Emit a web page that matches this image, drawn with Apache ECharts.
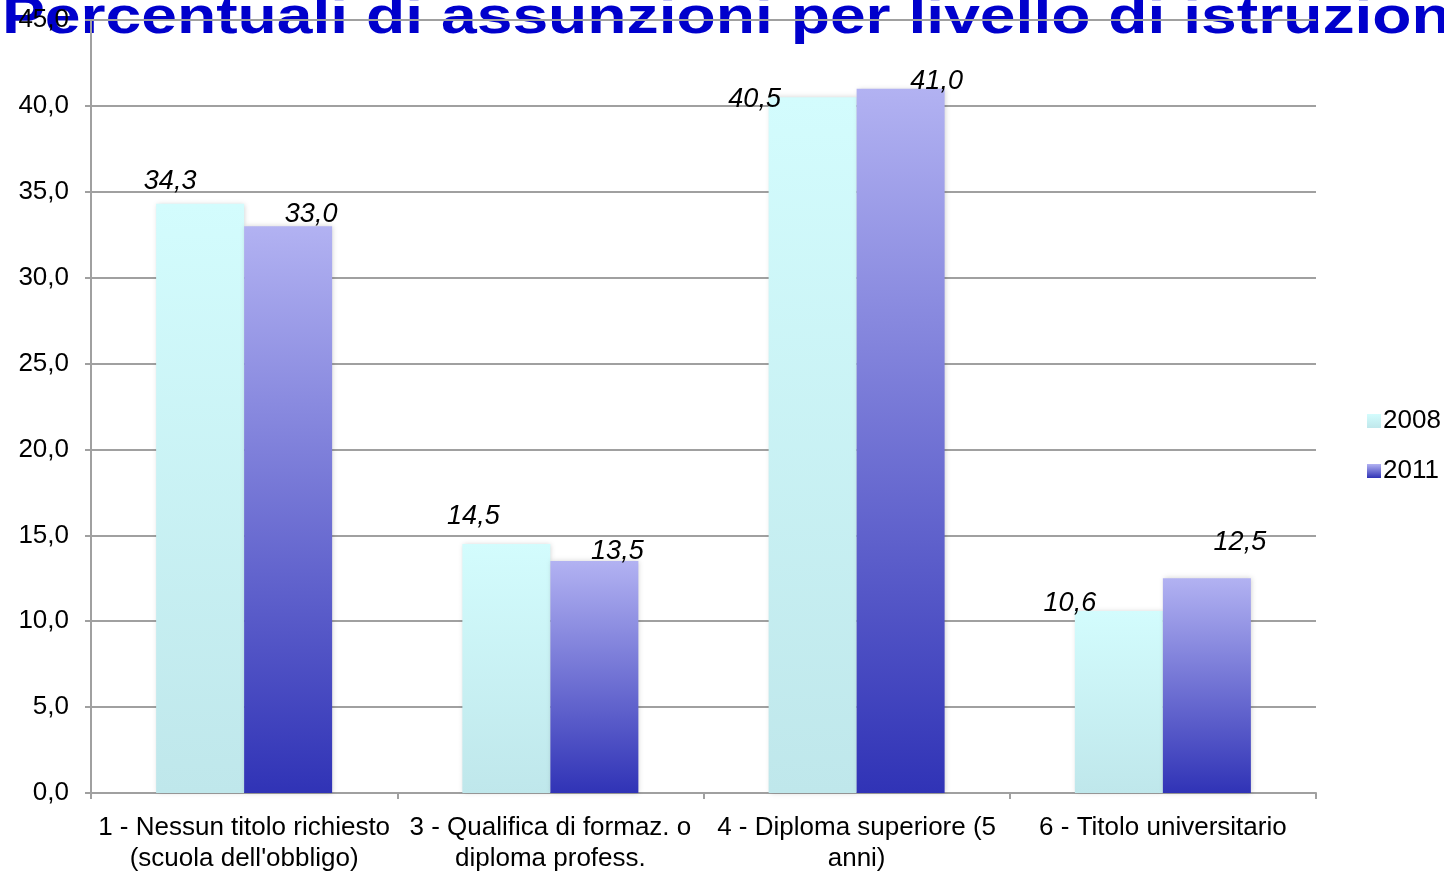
<!DOCTYPE html>
<html>
<head>
<meta charset="utf-8">
<script src="https://cdn.jsdelivr.net/npm/echarts@6/dist/echarts.min.js"></script>
<style>
html,body{margin:0;padding:0;background:#fff;}
#chart{width:1444px;height:874px;}
</style>
</head>
<body>
<div id="chart"></div>
<script>
var titleText = "Percentuali di assunzioni per livello di istruzione";
var categories = [
  "1 - Nessun titolo richiesto\n(scuola dell'obbligo)",
  "3 - Qualifica di formaz. o\ndiploma profess.",
  "4 - Diploma superiore (5\nanni)",
  "6 - Titolo universitario"
];
var seriesNames = ["2008", "2011"];
var values2008 = [34.3, 14.5, 40.5, 10.6];
var values2011 = [33.0, 13.5, 41.0, 12.5];
var yTicks = { min: 0, max: 45, interval: 5 };

// label placement offsets (style only)
var offsets2008 = [[-30,-9],[-33,-14],[-58,16],[-49,6]];
var offsets2011 = [[23,2],[23,4],[36,6],[33,-22]];

var FONT = "Liberation Sans, Arial, sans-serif";
var chart = echarts.init(document.getElementById('chart'));

function grad(top, bottom) {
  return new echarts.graphic.LinearGradient(0, 0, 0, 1, [
    {offset: 0, color: top}, {offset: 1, color: bottom}
  ]);
}
function fmt(v) { return v.toFixed(1).replace('.', ','); }
function build(vals, offs) {
  return vals.map(function (v, i) {
    return { value: v, label: { offset: offs[i] } };
  });
}
var labelStyle = {
  show: true, position: 'top', distance: 0,
  fontFamily: FONT, fontStyle: 'italic', fontSize: 27, color: '#000',
  formatter: function (p) { return fmt(p.value); }
};

chart.setOption({
  animation: false,
  backgroundColor: '#fff',
  graphic: [{
    type: 'text', x: 2, y: -7, scaleX: 1.235, z: -10,
    style: { text: titleText, font: 'bold 52px ' + FONT, fill: '#0000CC' }
  }],
  grid: { left: 91, right: 128, top: 20, bottom: 74, containLabel: false },
  legend: {
    orient: 'vertical', left: 1362, top: 403, itemWidth: 14, itemHeight: 14,
    itemGap: 24, icon: 'rect',
    textStyle: { fontFamily: FONT, fontSize: 26, color: '#000', padding: [0,0,0,-3] },
    data: seriesNames
  },
  xAxis: {
    type: 'category', data: categories,
    axisLine: { lineStyle: { color: '#A0A0A0', width: 2 } },
    axisTick: { show: true, length: 6, lineStyle: { color: '#A0A0A0', width: 2 } },
    axisLabel: { fontFamily: FONT, fontSize: 26, color: '#000', margin: 19, lineHeight: 31, interval: 0 }
  },
  yAxis: {
    type: 'value', min: yTicks.min, max: yTicks.max, interval: yTicks.interval,
    axisLine: { show: true, lineStyle: { color: '#A0A0A0', width: 2 } },
    axisTick: { show: true, length: 6, lineStyle: { color: '#A0A0A0', width: 2 } },
    splitLine: { lineStyle: { color: '#A0A0A0', width: 2 } },
    axisLabel: { fontFamily: FONT, fontSize: 26, color: '#000', margin: 22, formatter: fmt }
  },
  series: [{
    name: seriesNames[0], type: 'bar', barWidth: 88, barGap: '0%',
    data: build(values2008, offsets2008),
    itemStyle: { color: grad('#D3FCFD', '#BFE7EB'), shadowColor: 'rgba(0,0,0,0.18)', shadowBlur: 5, shadowOffsetX: 1 },
    label: labelStyle
  }, {
    name: seriesNames[1], type: 'bar', barWidth: 88, barGap: '0%',
    data: build(values2011, offsets2011),
    itemStyle: { color: grad('#B2B2F2', '#3033B6'), shadowColor: 'rgba(0,0,0,0.18)', shadowBlur: 5, shadowOffsetX: 1 },
    label: labelStyle
  }]
});
</script>
</body>
</html>
